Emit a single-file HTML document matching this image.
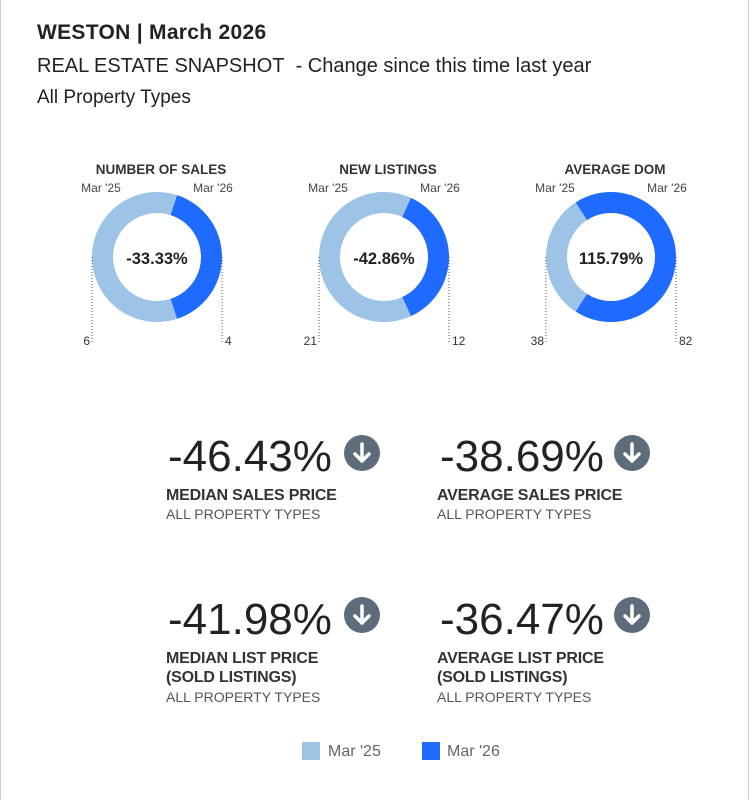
<!DOCTYPE html>
<html><head><meta charset="utf-8"><style>
body{margin:0;width:754px;height:801px;background:#fff;font-family:"Liberation Sans",Arial,sans-serif;position:relative;overflow:hidden}
.t{position:absolute;white-space:nowrap}
.frame{position:absolute;left:0;top:0;width:747px;height:800px;border-left:1px solid #ccc;border-right:1px solid #ccc}
.big{font-size:44px;color:#222;letter-spacing:0px}
.lab{font-size:16px;font-weight:bold;color:#333;line-height:19px;letter-spacing:-0.2px}
.sub{font-size:14px;color:#555}
</style></head><body>
<div class="frame"></div>
<div class="t" style="left:37px;top:21px;font-size:21px;font-weight:bold;color:#222;letter-spacing:0.3px">WESTON | March 2026</div>
<div class="t" style="left:37px;top:55px;font-size:20px;color:#222">REAL ESTATE SNAPSHOT&nbsp; - Change since this time last year</div>
<div class="t" style="left:37px;top:87px;font-size:19px;color:#222">All Property Types</div>
<svg id="donuts" width="754" height="360" style="position:absolute;left:0;top:0"></svg>

<div>
<div class="t big" style="left:168px;top:432px">-46.43%</div>
<div class="t lab" style="left:166px;top:486px">MEDIAN SALES PRICE</div>
<div class="t sub" style="left:166px;top:506px">ALL PROPERTY TYPES</div></div>
<div>
<div class="t big" style="left:440px;top:432px">-38.69%</div>
<div class="t lab" style="left:437px;top:486px">AVERAGE SALES PRICE</div>
<div class="t sub" style="left:437px;top:506px">ALL PROPERTY TYPES</div></div>
<div>
<div class="t big" style="left:168px;top:595px">-41.98%</div>
<div class="t lab" style="left:166px;top:649px">MEDIAN LIST PRICE<br>(SOLD LISTINGS)</div>
<div class="t sub" style="left:166px;top:689px">ALL PROPERTY TYPES</div></div>
<div>
<div class="t big" style="left:440px;top:595px">-36.47%</div>
<div class="t lab" style="left:437px;top:649px">AVERAGE LIST PRICE<br>(SOLD LISTINGS)</div>
<div class="t sub" style="left:437px;top:689px">ALL PROPERTY TYPES</div></div>

<svg width="754" height="801" style="position:absolute;left:0;top:0;pointer-events:none">
<g id="icons"></g></svg>

<div>
<div style="position:absolute;left:302px;top:742px;width:18px;height:18px;background:#9dc3e6"></div>
<div class="t" style="left:328px;top:743px;font-size:16px;color:#666">Mar '25</div>
<div style="position:absolute;left:422px;top:742px;width:18px;height:18px;background:#1f6bff"></div>
<div class="t" style="left:447px;top:743px;font-size:16px;color:#666">Mar '26</div>
</div>
<script>
const titles=["NUMBER OF SALES","NEW LISTINGS","AVERAGE DOM"];
const prevValues=[6,21,38];
const currValues=[4,12,82];
const changeLabels=["-33.33%","-42.86%","115.79%"];
const NS="http://www.w3.org/2000/svg";
const svg=document.getElementById('donuts');
const cxs=[157,384,611], cy=257, R=65, r=44;
function mk(t,a){const e=document.createElementNS(NS,t);for(const k in a)e.setAttribute(k,a[k]);return e;}
function pt(rad,ang){return [Math.sin(ang)*rad, -Math.cos(ang)*rad];}
function arc(cx,a0,a1){
  const large=(a1-a0)>Math.PI?1:0;
  const [x0,y0]=pt(R,a0),[x1,y1]=pt(R,a1),[x2,y2]=pt(r,a1),[x3,y3]=pt(r,a0);
  return `M${cx+x0},${cy+y0}A${R},${R} 0 ${large} 1 ${cx+x1},${cy+y1}L${cx+x2},${cy+y2}A${r},${r} 0 ${large} 0 ${cx+x3},${cy+y3}Z`;
}
titles.forEach((tt,i)=>{
  const cx=cxs[i], tot=prevValues[i]+currValues[i];
  const dAng=currValues[i]/tot*2*Math.PI;
  const c=Math.PI/2;
  const g=mk('g',{});
  
  
  svg.appendChild(g);
  const p1=mk('path',{d:arc(cx,c+dAng/2,c-dAng/2+2*Math.PI),fill:'#9dc3e6'});
  
  
  g.appendChild(p1);
  const p2=mk('path',{d:arc(cx,c-dAng/2,c+dAng/2),fill:'#1f6bff'});
  
  
  g.appendChild(p2);
  const txt=(x,y,s,a)=>{const e=mk('text',Object.assign({x:x,y:y,'font-family':'Liberation Sans, Arial, sans-serif'},a));e.textContent=s;g.appendChild(e);return e;};
  const t1=txt(cx+4,174,tt,{'text-anchor':'middle','font-size':13.5,'font-weight':'bold',fill:'#333'});
  
  
  txt(cx-56,192,"Mar '25",{'text-anchor':'middle','font-size':12,fill:'#444'});
  txt(cx+56,192,"Mar '26",{'text-anchor':'middle','font-size':12,fill:'#444'});
  const ct=txt(cx,264,changeLabels[i],{'text-anchor':'middle','font-size':16.5,'font-weight':'bold',fill:'#222'});
  
  
  g.appendChild(mk('line',{x1:cx-R,y1:cy,x2:cx-R,y2:343,stroke:'#555','stroke-dasharray':'1,2'}));
  g.appendChild(mk('line',{x1:cx+R,y1:cy,x2:cx+R,y2:343,stroke:'#555','stroke-dasharray':'1,2'}));
  txt(cx-R-2,345,prevValues[i],{'text-anchor':'end','font-size':12,fill:'#333'});
  txt(cx+R+3,345,currValues[i],{'text-anchor':'start','font-size':12,fill:'#333'});
});
const icons=document.getElementById('icons');
[[362,453],[632,453],[362,615],[632,615]].forEach(([x,y])=>{
  const g=mk('g',{});
  
  
  g.appendChild(mk('circle',{cx:x,cy:y,r:18,fill:'#5d6b7a'}));
  g.appendChild(mk('path',{d:`M${x},${y-9}V${y+8}M${x-7},${y+1}L${x},${y+8}L${x+7},${y+1}`,stroke:'#fff','stroke-width':3.5,fill:'none','stroke-linecap':'round','stroke-linejoin':'round'}));
  icons.appendChild(g);
});
</script>
</body></html>
